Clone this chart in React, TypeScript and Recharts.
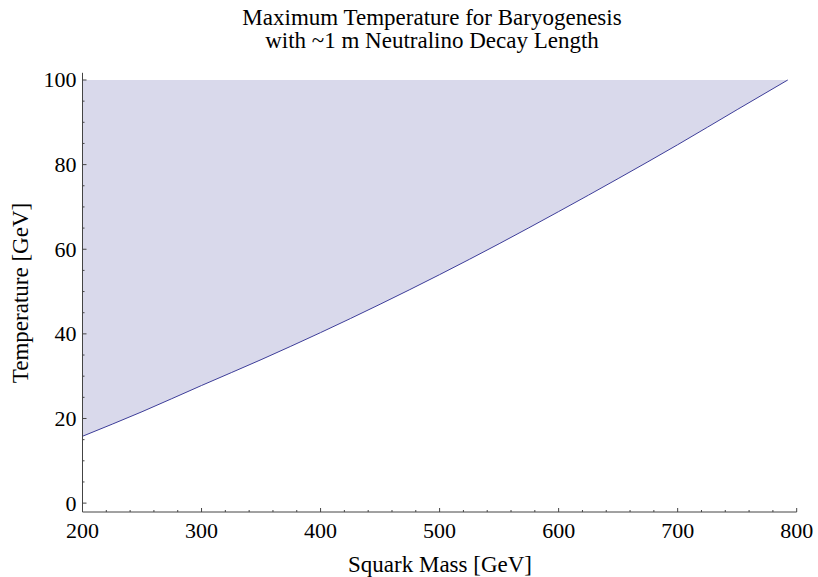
import { Area, ComposedChart, Line, XAxis, YAxis } from "recharts"

// squark mass [GeV] and the maximum temperature curve [GeV]
const squarkMass = [200, 250, 300, 350, 400, 450, 500, 550, 600, 650, 700, 750, 792.5]
const maxTemp = [15.8, 21.6, 27.8, 33.9, 40.3, 47.0, 54.0, 61.3, 68.9, 76.7, 84.7, 93.0, 100]
const tempCeiling = 100

const xTicks = [
  200, 220, 240, 260, 280, 300, 320, 340, 360, 380, 400, 420, 440, 460, 480, 500,
  520, 540, 560, 580, 600, 620, 640, 660, 680, 700, 720, 740, 760, 780, 800,
]
const xMajor = [200, 300, 400, 500, 600, 700, 800]
const yTicks = [0, 5, 10, 15, 20, 25, 30, 35, 40, 45, 50, 55, 60, 65, 70, 75, 80, 85, 90, 95, 100]
const yMajor = [0, 20, 40, 60, 80, 100]

const data = squarkMass.map((m, i) => ({
  m,
  t: maxTemp[i],
  band: [maxTemp[i], tempCeiling],
}))

const FONT = "'Liberation Serif', 'Times New Roman', serif"
const AXIS = "#444444"
const LINE = "#3d3d99"
const FILL = "#d9d9eb"

function XTick(props: any) {
  const { x, y, payload } = props
  const major = xMajor.includes(payload.value)
  return (
    <g>
      <line x1={x} y1={y} x2={x} y2={y - (major ? 4 : 2)} stroke={AXIS} strokeWidth={1} />
      {major && (
        <text x={x} y={y + 26} textAnchor="middle" fontFamily={FONT} fontSize={22} fill="#000">
          {payload.value}
        </text>
      )}
    </g>
  )
}

function YTick(props: any) {
  const { x, y, payload } = props
  const major = yMajor.includes(payload.value)
  return (
    <g>
      <line x1={x} y1={y} x2={x + (major ? 4 : 2)} y2={y} stroke={AXIS} strokeWidth={1} />
      {major && (
        <text x={x - 6} y={y + 7.5} textAnchor="end" fontFamily={FONT} fontSize={22} fill="#000">
          {payload.value}
        </text>
      )}
    </g>
  )
}

export default function App() {
  return (
    <div style={{ position: "absolute", left: 0, top: 0, width: 818, height: 577, background: "#fff" }}>
      <ComposedChart
        width={818}
        height={577}
        data={data}
        margin={{ top: 72.8, right: 21.3, bottom: 0, left: 0 }}
      >
        <XAxis
          dataKey="m"
          type="number"
          domain={[200, 800]}
          ticks={xTicks}
          interval={0}
          height={65}
          tickSize={0}
          tickMargin={0}
          tickLine={false}
          axisLine={{ stroke: AXIS }}
          tick={<XTick />}
        />
        <YAxis
          type="number"
          domain={[-2.1, 101.7]}
          allowDataOverflow
          ticks={yTicks}
          interval={0}
          width={82.5}
          tickSize={0}
          tickMargin={0}
          tickLine={false}
          axisLine={{ stroke: AXIS }}
          tick={<YTick />}
        />
        <Area
          dataKey="band"
          type="monotone"
          stroke="none"
          fill={FILL}
          fillOpacity={1}
          isAnimationActive={false}
        />
        <Line
          dataKey="t"
          type="monotone"
          stroke={LINE}
          strokeWidth={1}
          dot={false}
          activeDot={false}
          isAnimationActive={false}
        />
      </ComposedChart>
      <svg
        width={818}
        height={577}
        style={{ position: "absolute", left: 0, top: 0, pointerEvents: "none" }}
      >
        <g fontFamily={FONT} fontSize={23} fill="#000" textAnchor="middle">
          <text x={432} y={25}>Maximum Temperature for Baryogenesis</text>
          <text x={432} y={48}>with ~1 m Neutralino Decay Length</text>
          <text x={440} y={572}>Squark Mass [GeV]</text>
          <text x={27.5} y={293} transform="rotate(-90 27.5 293)">Temperature [GeV]</text>
        </g>
      </svg>
    </div>
  )
}
